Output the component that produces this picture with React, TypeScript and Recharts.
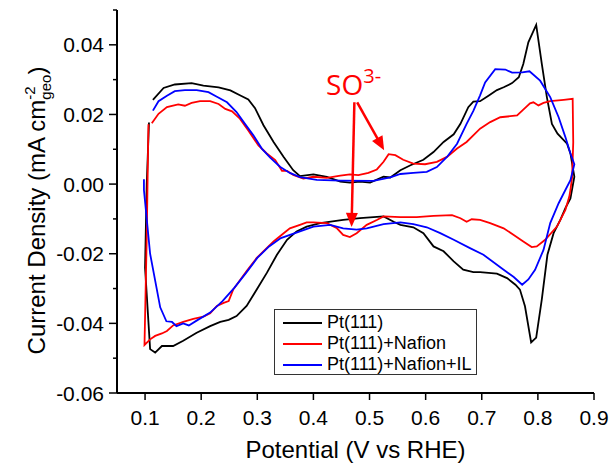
import React from 'react';
import { LineChart, Line, XAxis, YAxis, Legend, ReferenceLine, ReferenceDot, Label } from 'recharts';

// Potential (V vs RHE), current density (mA cm^-2 geo) pairs, in scan order
const pt111: [number, number][] = [
  [0.114, 0.0242], [0.133, 0.0276], [0.153, 0.0286], [0.183, 0.029], [0.204, 0.0283], [0.231, 0.0278],
  [0.252, 0.0269], [0.269, 0.0255], [0.284, 0.0243], [0.296, 0.0218], [0.311, 0.0169], [0.329, 0.0121],
  [0.347, 0.0078], [0.364, 0.004], [0.376, 0.0023], [0.4, 0.0028], [0.424, 0.0021], [0.448, 0.0007],
  [0.465, 0.0004], [0.483, 0.0007], [0.501, 0.0004], [0.525, 0.0021], [0.537, 0.0019], [0.555, 0.004],
  [0.573, 0.0054], [0.596, 0.007], [0.614, 0.0092], [0.632, 0.0121], [0.65, 0.0143], [0.662, 0.0173],
  [0.676, 0.0221], [0.685, 0.0237], [0.697, 0.0238], [0.712, 0.0254], [0.727, 0.027], [0.739, 0.0278],
  [0.754, 0.029], [0.766, 0.0307], [0.774, 0.0345], [0.783, 0.0407], [0.797, 0.0457], [0.807, 0.0345],
  [0.816, 0.025], [0.825, 0.0173], [0.835, 0.0145], [0.852, 0.0116], [0.858, 0.0088], [0.865, 0.0021],
  [0.858, -0.0041], [0.849, -0.0069], [0.84, -0.0103], [0.828, -0.0141], [0.817, -0.0203], [0.807, -0.0331],
  [0.797, -0.0441], [0.788, -0.0455], [0.777, -0.0351], [0.768, -0.0303], [0.76, -0.0289], [0.745, -0.027],
  [0.727, -0.0257], [0.697, -0.0253], [0.685, -0.0253], [0.667, -0.0246], [0.65, -0.0222], [0.632, -0.0193],
  [0.614, -0.0179], [0.596, -0.0141], [0.578, -0.0124], [0.555, -0.0117], [0.543, -0.0108], [0.525, -0.0093],
  [0.483, -0.0098], [0.453, -0.0103], [0.412, -0.0112], [0.388, -0.0122], [0.37, -0.0136], [0.353, -0.016],
  [0.335, -0.0203], [0.317, -0.0255], [0.299, -0.0303], [0.281, -0.035], [0.263, -0.0379], [0.249, -0.039],
  [0.234, -0.0396], [0.216, -0.0408], [0.192, -0.0427], [0.168, -0.045], [0.15, -0.0465], [0.13, -0.0465],
  [0.118, -0.0484], [0.109, -0.0474], [0.1, -0.024], [0.103, 0.0], [0.107, 0.0177],
];

const ptNafion: [number, number][] = [
  [0.112, 0.0175], [0.124, 0.0202], [0.139, 0.0221], [0.159, 0.0229], [0.171, 0.0225], [0.183, 0.0233],
  [0.198, 0.0238], [0.216, 0.0238], [0.231, 0.023], [0.243, 0.0216], [0.255, 0.0209], [0.269, 0.0188],
  [0.284, 0.0154], [0.302, 0.0111], [0.317, 0.0088], [0.332, 0.0069], [0.344, 0.0038], [0.353, 0.0038],
  [0.364, 0.0026], [0.382, 0.0016], [0.4, 0.0021], [0.424, 0.0018], [0.448, 0.0024], [0.465, 0.0028],
  [0.48, 0.0026], [0.498, 0.0032], [0.513, 0.0042], [0.525, 0.0064], [0.534, 0.0086], [0.546, 0.0083],
  [0.56, 0.007], [0.578, 0.0059], [0.599, 0.0057], [0.62, 0.0064], [0.638, 0.0078], [0.656, 0.0102],
  [0.673, 0.0121], [0.697, 0.0159], [0.715, 0.0178], [0.733, 0.0192], [0.763, 0.0197], [0.774, 0.0214],
  [0.786, 0.0232], [0.792, 0.0235], [0.801, 0.0226], [0.81, 0.0233], [0.822, 0.0238], [0.846, 0.0242],
  [0.862, 0.0245], [0.863, 0.012], [0.861, 0.002], [0.858, -0.0017], [0.856, -0.0036], [0.849, -0.0074],
  [0.834, -0.0122], [0.813, -0.016], [0.798, -0.0179], [0.789, -0.0181], [0.774, -0.0165], [0.757, -0.0146],
  [0.739, -0.0127], [0.715, -0.0112], [0.697, -0.0103], [0.682, -0.0101], [0.673, -0.0108], [0.662, -0.0098],
  [0.647, -0.0089], [0.614, -0.0091], [0.584, -0.0095], [0.555, -0.0095], [0.525, -0.0093], [0.513, -0.0103],
  [0.495, -0.0117], [0.477, -0.0141], [0.465, -0.0152], [0.453, -0.0146], [0.442, -0.0127], [0.424, -0.0112],
  [0.4, -0.011], [0.388, -0.011], [0.376, -0.0117], [0.358, -0.0127], [0.347, -0.0141], [0.329, -0.0165],
  [0.299, -0.0212], [0.281, -0.025], [0.257, -0.0303], [0.249, -0.0336], [0.24, -0.0341], [0.228, -0.035],
  [0.216, -0.0371], [0.204, -0.0381], [0.186, -0.0387], [0.168, -0.0396], [0.15, -0.0406], [0.139, -0.0422],
  [0.13, -0.0429], [0.118, -0.0436], [0.109, -0.0446], [0.099, -0.0462], [0.103, -0.015], [0.106, 0.0172],
];

const ptNafionIL: [number, number][] = [
  [0.114, 0.0211], [0.124, 0.0238], [0.139, 0.0254], [0.153, 0.0267], [0.171, 0.027], [0.192, 0.027],
  [0.213, 0.0264], [0.228, 0.0251], [0.246, 0.0235], [0.263, 0.0207], [0.278, 0.0173], [0.293, 0.014],
  [0.308, 0.0102], [0.323, 0.0076], [0.341, 0.0049], [0.358, 0.0032], [0.376, 0.002], [0.406, 0.0012],
  [0.448, 0.001], [0.507, 0.0009], [0.537, 0.0019], [0.555, 0.0029], [0.578, 0.0032], [0.602, 0.0035],
  [0.62, 0.0049], [0.638, 0.0078], [0.656, 0.0116], [0.673, 0.0173], [0.685, 0.021], [0.697, 0.0255],
  [0.706, 0.0292], [0.724, 0.033], [0.742, 0.0329], [0.754, 0.032], [0.772, 0.0321], [0.785, 0.0324],
  [0.804, 0.0297], [0.822, 0.025], [0.837, 0.0192], [0.849, 0.0135], [0.858, 0.0088], [0.865, 0.0057],
  [0.858, 0.0011], [0.849, -0.0017], [0.837, -0.0055], [0.822, -0.0112], [0.81, -0.0189], [0.795, -0.0246],
  [0.783, -0.0274], [0.772, -0.0289], [0.757, -0.0267], [0.739, -0.0246], [0.703, -0.0203], [0.679, -0.0184],
  [0.65, -0.016], [0.626, -0.0141], [0.602, -0.0124], [0.578, -0.0115], [0.555, -0.011], [0.525, -0.0115],
  [0.495, -0.0127], [0.477, -0.0131], [0.453, -0.0127], [0.43, -0.0117], [0.4, -0.0122], [0.376, -0.0136],
  [0.342, -0.0155], [0.321, -0.0179], [0.3, -0.0212], [0.28, -0.0255], [0.259, -0.0298], [0.238, -0.0336],
  [0.216, -0.0369], [0.194, -0.039], [0.178, -0.0406], [0.168, -0.04], [0.156, -0.0408], [0.148, -0.0396],
  [0.138, -0.0394], [0.127, -0.0354], [0.109, -0.02], [0.098, -0.0017], [0.098, 0.0014],
];

const seriesNames = ['Pt(111)', 'Pt(111)+Nafion', 'Pt(111)+Nafion+IL'];
const seriesColors = ['#000000', '#ff0000', '#0000ff'];
const xTicks = [0.1, 0.2, 0.3, 0.4, 0.5, 0.6, 0.7, 0.8, 0.9];
const yTicks = [-0.06, -0.05, -0.04, -0.03, -0.02, -0.01, 0, 0.01, 0.02, 0.03, 0.04, 0.05];
const xDomain: [number, number] = [0.05, 0.9];
const yDomain: [number, number] = [-0.06, 0.05];

// annotation anchors (data coordinates)
const annotText = { x: 0.4226, y: 0.0257 };
const arrowDiag = [{ x: 0.478, y: 0.0235 }, { x: 0.526, y: 0.0097 }];
const arrowVert = [{ x: 0.473, y: 0.0235 }, { x: 0.468, y: -0.0123 }];

const toPoints = (arr: [number, number][]) => arr.map(([x, y]) => ({ x, y }));
const FONT = '"Liberation Sans", Arial, sans-serif';

const YTick = (props: any) => {
  const { x, y, payload } = props;
  const v = payload.value as number;
  const major = Math.round(v * 100) % 2 === 0;
  return (
    <g>
      <line x1={x} x2={x - (major ? 8 : 4)} y1={y} y2={y} stroke="#000" strokeWidth={1.5} />
      {major && (
        <text x={x - 13} y={y} dy="0.36em" textAnchor="end" fontSize={21} fontFamily={FONT} fill="#000">
          {v.toFixed(2)}
        </text>
      )}
    </g>
  );
};

const XTick = (props: any) => {
  const { x, y, payload } = props;
  const v = payload.value as number;
  return (
    <g>
      <line x1={x} x2={x} y1={y} y2={y + 7} stroke="#000" strokeWidth={1.5} />
      <text x={x} y={y + 32} textAnchor="middle" fontSize={21} fontFamily={FONT} fill="#000">
        {v.toFixed(1)}
      </text>
    </g>
  );
};

const XTitle = (props: any) => {
  const vb = props.viewBox || { x: 117, y: 393, width: 477, height: 71 };
  return (
    <text x={vb.x + vb.width / 2} y={vb.y + 65} textAnchor="middle" fontSize={24} fontFamily={FONT} fill="#000">
      Potential (V vs RHE)
    </text>
  );
};

const YTitle = (props: any) => {
  const vb = props.viewBox || { x: 0, y: 10, width: 117, height: 383 };
  const cx = vb.x + 45;
  const cy = vb.y + vb.height / 2 + 9;
  return (
    <text transform={`rotate(-90 ${cx} ${cy})`} x={cx} y={cy} textAnchor="middle" fontSize={24} fontFamily={FONT} fill="#000">
      <tspan>Current Density (mA cm</tspan>
      <tspan fontSize={15} dy={-10}>-2</tspan>
      <tspan fontSize={15} dx={-13.3} dy={16}>geo</tspan>
      <tspan dy={-6}>)</tspan>
    </text>
  );
};

const ArrowShape = (props: any) => {
  const { x1, y1, x2, y2 } = props;
  if ([x1, y1, x2, y2].some((v) => typeof v !== 'number' || isNaN(v))) return null;
  const dx = x2 - x1;
  const dy = y2 - y1;
  const len = Math.sqrt(dx * dx + dy * dy) || 1;
  const ux = dx / len;
  const uy = dy / len;
  const headL = 14;
  const headW = 6;
  const bx = x2 - ux * headL;
  const by = y2 - uy * headL;
  const px = -uy;
  const py = ux;
  return (
    <g>
      <line x1={x1} y1={y1} x2={bx + ux * 2} y2={by + uy * 2} stroke="#ff0000" strokeWidth={2.5} />
      <polygon
        points={`${x2},${y2} ${bx + px * headW},${by + py * headW} ${bx - px * headW},${by - py * headW}`}
        fill="#ff0000"
      />
    </g>
  );
};

const AnnotText = (props: any) => {
  const { cx, cy } = props;
  if (typeof cx !== 'number' || typeof cy !== 'number') return null;
  return (
    <text x={cx} y={cy} fill="#ff0000" fontFamily='"Open Sans", sans-serif' fontSize={28}>
      SO<tspan fontSize={20} dy={-12}>3-</tspan>
    </text>
  );
};

const LegendBox = (props: any) => {
  const payload = props.payload || [];
  return (
    <div
      style={{
        border: '1px solid #333',
        background: '#fff',
        width: 203,
        height: 66,
        boxSizing: 'border-box',
        paddingTop: 2,
        fontFamily: FONT,
        fontSize: 18,
        color: '#000',
      }}
    >
      {payload.map((p: any) => (
        <div key={p.value} style={{ display: 'flex', alignItems: 'center', height: 21, lineHeight: '21px' }}>
          <span style={{ display: 'inline-block', width: 39, height: 2, background: p.color, marginLeft: 8, marginRight: 5 }} />
          <span>{p.value}</span>
        </div>
      ))}
    </div>
  );
};

const datasets = [toPoints(pt111), toPoints(ptNafion), toPoints(ptNafionIL)];

export default function App() {
  return (
    <div style={{ position: 'absolute', left: 0, top: 0, background: '#fff' }}>
      <LineChart width={609} height={464} margin={{ top: 10, right: 15, bottom: 0, left: 0 }}>
        <XAxis
          dataKey="x"
          type="number"
          domain={xDomain}
          ticks={xTicks}
          interval={0}
          allowDataOverflow
          height={71}
          tickSize={0}
          tickMargin={0}
          tickLine={false}
          tick={<XTick />}
          axisLine={{ stroke: '#000', strokeWidth: 2 }}
          label={<Label content={<XTitle />} />}
        />
        <XAxis
          xAxisId="top"
          orientation="top"
          type="number"
          domain={xDomain}
          height={0}
          tick={false}
          tickLine={false}
          axisLine={{ stroke: '#000', strokeWidth: 1.5 }}
        />
        <YAxis
          type="number"
          domain={yDomain}
          ticks={yTicks}
          interval={0}
          allowDataOverflow
          width={117}
          tickSize={0}
          tickMargin={0}
          tickLine={false}
          tick={<YTick />}
          axisLine={{ stroke: '#000', strokeWidth: 2 }}
          label={<Label content={<YTitle />} />}
        />
        <YAxis
          yAxisId="right"
          orientation="right"
          type="number"
          domain={yDomain}
          ticks={yTicks}
          interval={0}
          width={0}
          tick={false}
          tickSize={3}
          tickLine={{ stroke: '#999' }}
          axisLine={{ stroke: '#000', strokeWidth: 1.5 }}
        />
        {datasets.map((d, i) => (
          <Line
            key={seriesNames[i]}
            data={d}
            dataKey="y"
            name={seriesNames[i]}
            type="linear"
            stroke={seriesColors[i]}
            strokeWidth={1.8}
            dot={false}
            activeDot={false}
            isAnimationActive={false}
          />
        ))}
        <ReferenceLine segment={arrowVert} shape={<ArrowShape />} ifOverflow="visible" />
        <ReferenceLine segment={arrowDiag} shape={<ArrowShape />} ifOverflow="visible" />
        <ReferenceDot x={annotText.x} y={annotText.y} r={0} shape={<AnnotText />} ifOverflow="visible" />
        <Legend
          layout="horizontal"
          verticalAlign="middle"
          align="center"
          content={<LegendBox />}
          wrapperStyle={{ left: 274, top: 309, width: 203, height: 66 }}
        />
      </LineChart>
    </div>
  );
}
